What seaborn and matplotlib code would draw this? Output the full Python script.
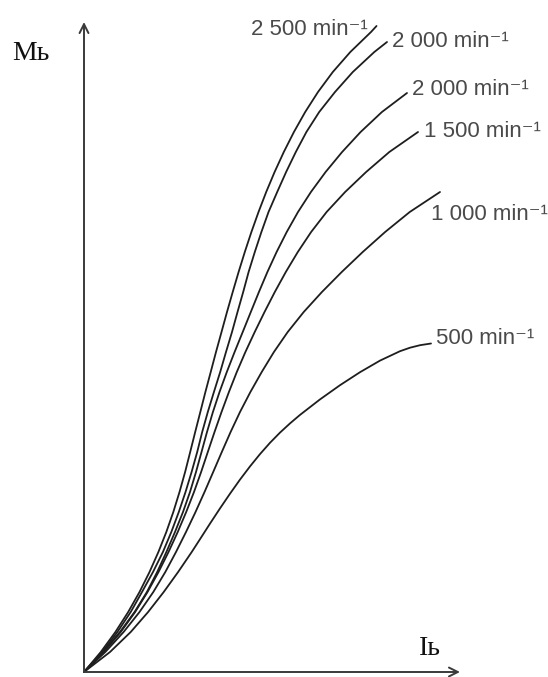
import matplotlib
matplotlib.use("Agg")
import matplotlib.pyplot as plt
import numpy as np
import pandas as pd
import seaborn as sns

# ---- data (arbitrary units) ----
curve_ids = ["n2500", "n2000a", "n2000b", "n1500", "n1000", "n500"]
curve_labels = ["2 500 min⁻¹", "2 000 min⁻¹", "2 000 min⁻¹", "1 500 min⁻¹", "1 000 min⁻¹", "500 min⁻¹"]

i_2500 = [0, 4.2, 7.85, 11.05, 13.88, 16.38, 18.6, 20.58, 22.33, 23.88, 25.28, 26.55, 27.8, 29.08,
          30.35, 31.68, 33.0, 34.38, 35.75, 37.18, 38.65, 40.2, 41.85, 43.63, 45.55, 47.65, 49.95,
          52.48, 55.3, 58.5, 62.2, 66.58, 71.75, 73.13]
m_2500 = [0, 4, 8, 12, 16, 20, 24, 28, 32, 36, 40, 44, 48, 52, 56, 60, 64, 68, 72, 76, 80, 84, 88,
          92, 96, 100, 104, 108, 112, 116, 120, 124, 128, 129.2]

i_2000a = [0, 4.58, 8.35, 11.68, 14.5, 17.25, 19.73, 21.83, 23.7, 25.38, 26.9, 28.3, 29.55, 30.95,
           32.48, 34.05, 35.5, 37.0, 38.38, 39.8, 41.15, 42.7, 44.35, 46.13, 48.3, 50.53, 52.95,
           55.6, 58.8, 62.75, 67.2, 72.58, 75.75]
m_2000a = [0, 4, 8, 12, 16, 20, 24, 28, 32, 36, 40, 44, 48, 52, 56, 60, 64, 68, 72, 76, 80, 84, 88,
           92, 96, 100, 104, 108, 112, 116, 120, 124, 126]

i_2000b = [0, 4.75, 8.98, 12.65, 15.73, 18.3, 20.6, 22.75, 24.75, 26.5, 28.0, 29.38, 30.75, 32.23,
           33.88, 35.7, 37.65, 39.68, 41.7, 43.73, 45.85, 48.15, 50.68, 53.5, 56.73, 60.4, 64.53,
           69.15, 74.48, 80.75]
m_2000b = [0, 4, 8, 12, 16, 20, 24, 28, 32, 36, 40, 44, 48, 52, 56, 60, 64, 68, 72, 76, 80, 84, 88,
           92, 96, 100, 104, 108, 112, 115.8]

i_1500 = [0, 4.93, 9.18, 12.78, 15.88, 18.63, 21.13, 23.43, 25.55, 27.5, 29.28, 30.95, 32.63, 34.38,
          36.23, 38.2, 40.35, 42.68, 45.13, 47.7, 50.45, 53.45, 56.78, 60.65, 65.28, 70.53, 76.33, 83.5]
m_1500 = [0, 4, 8, 12, 16, 20, 24, 28, 32, 36, 40, 44, 48, 52, 56, 60, 64, 68, 72, 76, 80, 84, 88,
          92, 96, 100, 104, 108]

i_1000 = [0, 5.33, 9.9, 13.88, 17.33, 20.33, 23.0, 25.5, 27.88, 30.13, 32.3, 34.45, 36.65, 39.0,
          41.6, 44.43, 47.48, 50.93, 54.93, 59.48, 64.43, 69.68, 75.28, 81.43, 89.0]
m_1000 = [0, 4, 8, 12, 16, 20, 24, 28, 32, 36, 40, 44, 48, 52, 56, 60, 64, 68, 72, 76, 80, 84, 88,
          92, 96]

i_500 = [0, 6.5, 11.68, 16.03, 19.93, 23.53, 26.93, 29.0, 31.5, 34.0, 36.5, 39.0, 41.5, 44.0,
         46.5, 49.0, 51.5, 54.0, 59.0, 64.0, 69.0, 74.0, 79.0, 81.5, 84.0, 86.75]
m_500 = [0, 4, 8, 12, 16, 20, 24, 26.56, 29.68, 32.72, 35.66, 38.48, 41.12, 43.58, 45.84, 47.88,
         49.72, 51.42, 54.52, 57.36, 59.96, 62.28, 64.16, 64.86, 65.36, 65.7]

series_i = [i_2500, i_2000a, i_2000b, i_1500, i_1000, i_500]
series_m = [m_2500, m_2000a, m_2000b, m_1500, m_1000, m_500]

x_label = "Iь"
y_label = "Mь"

# ---- build long table ----
rows = []
for cid, xs, ys in zip(curve_ids, series_i, series_m):
    for k, (xv, yv) in enumerate(zip(xs, ys)):
        rows.append({"curve": cid, "I": xv, "M": yv, "order": k})
df = pd.DataFrame(rows)

sns.set_theme(style="white")
plt.rcParams["font.family"] = ["Liberation Sans", "DejaVu Sans"]

W, H = 548, 677
fig = plt.figure(figsize=(W / 100, H / 100), dpi=100)
fig.patch.set_facecolor("white")
ax = fig.add_axes([84 / W, 5 / H, 376 / W, 650 / H])
ax.set_facecolor("white")

sns.lineplot(data=df, x="I", y="M", units="curve", estimator=None, sort=False,
             color="#1e1e1e", linewidth=1.3, ax=ax, legend=False)
for ln in ax.lines:
    ln.set_clip_on(False)
    ln.set_solid_joinstyle("round")

ax.set_xlim(0, 94)
ax.set_ylim(0, 130)
for s in ax.spines.values():
    s.set_visible(False)
ax.set_xticks([])
ax.set_yticks([])
ax.set_xlabel("")
ax.set_ylabel("")

arrow_kw = dict(arrowstyle="->", lw=1.4, color="#3a3a3a", shrinkA=0, shrinkB=0,
                mutation_scale=16)
ax.annotate("", xy=(1, 0), xytext=(0, 0), xycoords="axes fraction",
            textcoords="axes fraction", arrowprops=arrow_kw, annotation_clip=False)
ax.annotate("", xy=(0, 1), xytext=(0, 0), xycoords="axes fraction",
            textcoords="axes fraction", arrowprops=arrow_kw, annotation_clip=False)

# label placement relative to curve ends (pixels)
offsets = [(-9, -9, "right"), (5, -5, "left"), (5, -2, "left"),
           (6, -5, "left"), (-9, -28, "left"), (5, 0, "left")]
for lab, xs, ys, (dx, dy, ha) in zip(curve_labels, series_i, series_m, offsets):
    ax.annotate(lab, xy=(xs[-1], ys[-1]), xytext=(dx, dy), textcoords="offset pixels",
                ha=ha, va="baseline", fontsize=16, color="#4a4a4a",
                annotation_clip=False)

serif = ["Liberation Serif", "DejaVu Serif"]
fig.text(12 / W, 1 - 60 / H, y_label, family=serif, fontsize=20, color="#111111",
         va="baseline", ha="left")
fig.text(419 / W, 1 - 655 / H, x_label, family=serif, fontsize=20, color="#111111",
         va="baseline", ha="left")

fig.savefig("out.png", dpi=100)
